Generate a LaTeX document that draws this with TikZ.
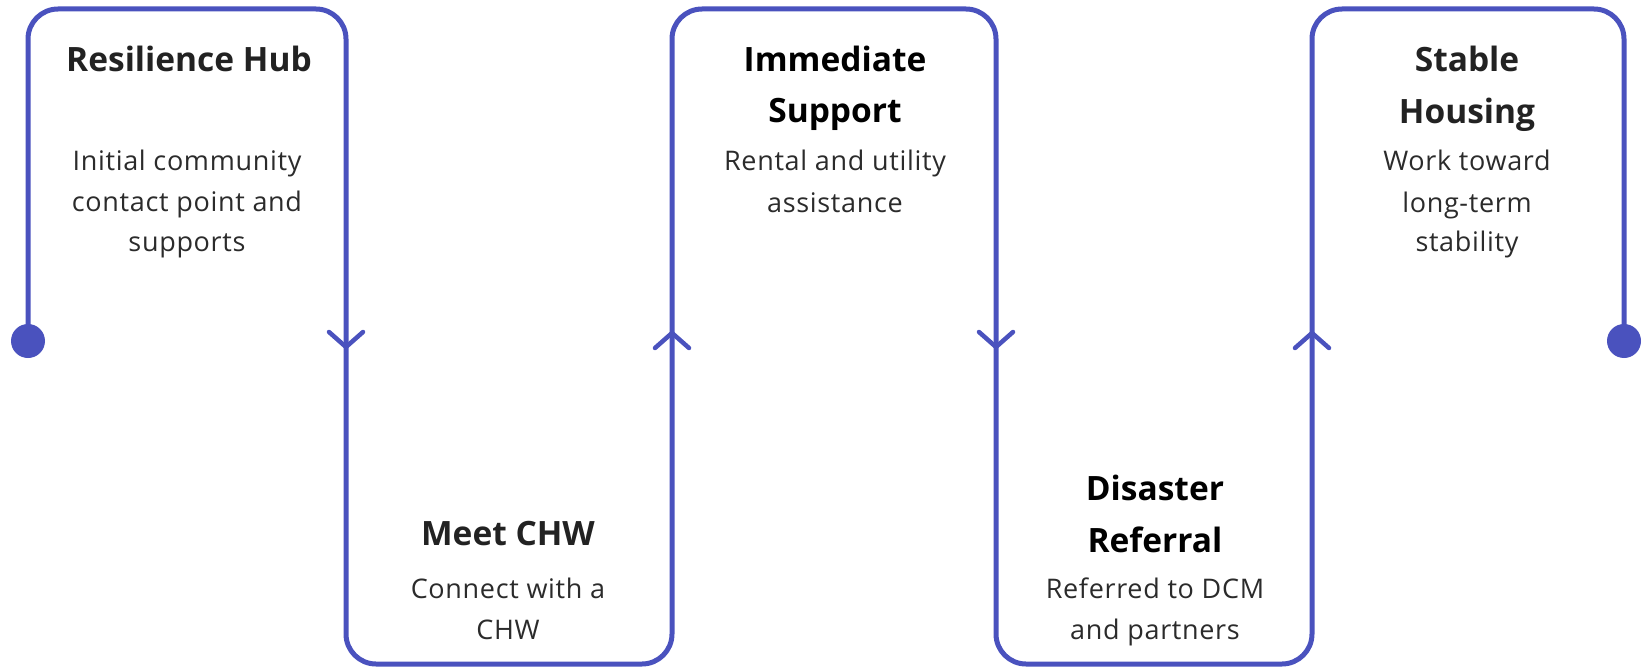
\documentclass[tikz,border=0pt]{standalone}
\usepackage{fontspec}
\setmainfont{Open Sans}
\newfontfamily\bodyfont[LetterSpace=2.5]{Open Sans}
\definecolor{flow}{RGB}{74,82,190}
\definecolor{ttl}{HTML}{222222}
\definecolor{bdy}{HTML}{2B2B2B}
\tikzset{
  flowline/.style={draw=flow, line width=5pt, line cap=round, line join=round},
  chev/.style={draw=flow, line width=4.5pt, line cap=round, line join=round},
  titletext/.style={anchor=base, inner sep=0pt, text=ttl, font=\fontsize{33.5}{40}\selectfont\bfseries},
  bodytext/.style={anchor=base, inner sep=0pt, text=bdy, font=\bodyfont\fontsize{27}{36}\selectfont},
}
\begin{document}
\begin{tikzpicture}[x=1pt,y=-1pt]
\useasboundingbox (0,0) rectangle (1642,669);
% path corners
\coordinate (start) at (28,341);
\coordinate (finish) at (1624,341);
\coordinate (a1) at (28,9);   \coordinate (a2) at (346,9);
\coordinate (b1) at (346,664); \coordinate (b2) at (672,664);
\coordinate (c1) at (672,9);  \coordinate (c2) at (996,9);
\coordinate (d1) at (996,664); \coordinate (d2) at (1312,664);
\coordinate (e1) at (1312,9); \coordinate (e2) at (1624,9);
\draw[flowline, rounded corners=30pt] (start) -- (a1) -- (a2) -- (b1) -- (b2) -- (c1) -- (c2) -- (d1) -- (d2) -- (e1) -- (e2) -- (finish);
\fill[flow] (start) circle (17pt);
\fill[flow] (finish) circle (17pt);
% chevrons
\coordinate (t1) at (346,347);
\coordinate (t2) at (672,333);
\coordinate (t3) at (996,347);
\coordinate (t4) at (1312,333);
\draw[chev] ([shift={(-17,-15)}]t1) -- (t1) -- ([shift={(17,-15)}]t1);
\draw[chev] ([shift={(-17,15)}]t2) -- (t2) -- ([shift={(17,15)}]t2);
\draw[chev] ([shift={(-17,-15)}]t3) -- (t3) -- ([shift={(17,-15)}]t3);
\draw[chev] ([shift={(-17,15)}]t4) -- (t4) -- ([shift={(17,15)}]t4);
% texts
\node[titletext] (h1) at (189,72) {Resilience Hub};
\node[bodytext] (h1a) at (187,170) {Initial community};
\node[bodytext] (h1b) at (187,211) {contact point and};
\node[bodytext] (h1c) at (187,251) {supports};

\node[titletext] (h2) at (508,545) {Meet CHW};
\node[bodytext] (h2a) at (508,598) {Connect with a};
\node[bodytext] (h2b) at (508,639) {CHW};

\node[titletext,text=black] (h3) at (835,72) {Immediate};
\node[titletext,text=black] (h3x) at (835,122) {Support};
\node[bodytext] (h3a) at (835,170) {Rental and utility};
\node[bodytext] (h3b) at (835,212) {assistance};

\node[titletext,text=black] (h4) at (1155,500) {Disaster};
\node[titletext,text=black] (h4x) at (1155,552) {Referral};
\node[bodytext] (h4a) at (1155,598) {Referred to DCM};
\node[bodytext] (h4b) at (1155,639) {and partners};

\node[titletext] (h5) at (1467,72) {Stable};
\node[titletext] (h5x) at (1467,124) {Housing};
\node[bodytext] (h5a) at (1467,170) {Work toward};
\node[bodytext] (h5b) at (1467,212) {long-term};
\node[bodytext] (h5c) at (1467,251) {stability};
\end{tikzpicture}
\end{document}
